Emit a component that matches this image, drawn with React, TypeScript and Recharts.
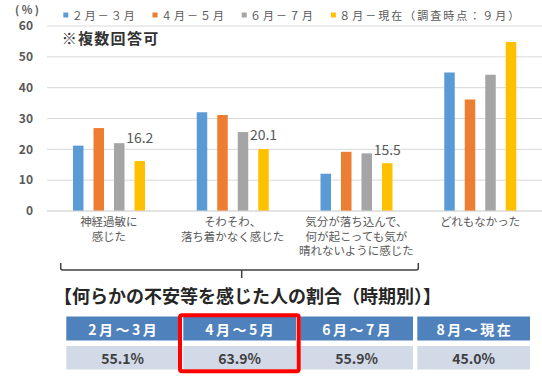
import { BarChart, Bar, XAxis, YAxis, CartesianGrid, LabelList } from 'recharts';

const categories = [
  '神経過敏に\n感じた',
  'そわそわ、\n落ち着かなく感じた',
  '気分が落ち込んで、\n何が起こっても気が\n晴れないように感じた',
  'どれもなかった',
];
const febMar = [21.2, 32.0, 12.1, 44.9];
const aprMay = [26.9, 31.1, 19.2, 36.2];
const junJul = [22.0, 25.6, 18.7, 44.2];
const augNow = [16.2, 20.1, 15.5, 54.8];
const yTicks = [0, 10, 20, 30, 40, 50, 60];
const seriesNames = ['２月－３月', '４月－５月', '６月－７月', '８月－現在（調査時点：９月）'];
const labelled = [true, true, true, false];

const tableHeads = ['2月～3月', '4月～5月', '6月～7月', '8月～現在'];
const tableValues = ['55.1%', '63.9%', '55.9%', '45.0%'];

const KEYS = ['febMar', 'aprMay', 'junJul', 'augNow'];
const COLORS = ['#5B9BD5', '#ED7D31', '#A5A5A5', '#FFC000'];
const FONT = "'Noto Sans CJK JP', 'Noto Sans', sans-serif";

const data = categories.map((name, i) => ({
  name,
  febMar: febMar[i],
  aprMay: aprMay[i],
  junJul: junJul[i],
  augNow: augNow[i],
}));

// how far each value label sits above its bar
const labelLift = [24, 15, 14];

function PeakLabel(props: any) {
  const { x, y, width, value, index } = props;
  if (!labelled[index]) return null;
  return (
    <text
      x={x + width / 2}
      y={y - labelLift[index]}
      textAnchor="middle"
      dominantBaseline="central"
      fontSize={14}
      fill="#595959"
    >
      {Number(value).toFixed(1)}
    </text>
  );
}

function CategoryTick({ x, y, payload }: any) {
  const lines = String(payload.value).split('\n');
  return (
    <text x={x} y={y} textAnchor="middle" fill="#595959" fontSize={11.5}>
      {lines.map((l, i) => (
        <tspan key={i} x={x} dy={i === 0 ? 7 : 14.6}>
          {l}
        </tspan>
      ))}
    </text>
  );
}

function Overlay() {
  const colX = (i: number) => 66.3 + i * 117;
  return (
    <svg
      width={542}
      height={379}
      style={{ position: 'absolute', left: 0, top: 0, pointerEvents: 'none', fontFamily: FONT }}
    >
      <text x={15} y={8.5} dominantBaseline="central" fontSize={11} fontWeight="bold" fill="#595959" style={{ letterSpacing: 2.5 }}>
        (%)
      </text>
      {seriesNames.map((s, i) => {
        const x0 = 63.3 + i * 89.2;
        return (
          <g key={s}>
            <rect x={x0} y={12.5} width={5} height={5} fill={COLORS[i]} />
            <text x={x0 + 8.4} y={15} dominantBaseline="central" fontSize={11} fill="#595959" style={{ letterSpacing: 2 }}>
              {s}
            </text>
          </g>
        );
      })}
      <text x={61.7} y={37.7} dominantBaseline="central" fontSize={15} fontWeight="bold" fill="#333" style={{ letterSpacing: 1.3 }}>
        ※複数回答可
      </text>

      <path
        d="M60.7,263 V268 Q60.7,270 62.7,270 H416.3 Q418.3,270 418.3,268 V263 M241.7,270 V278"
        fill="none"
        stroke="#404040"
        strokeWidth={1.5}
      />

      <text x={54} y={295} dominantBaseline="central" fontSize={18} fontWeight="bold" fill="#262626">
        【何らかの不安等を感じた人の割合（時期別）】
      </text>

      {tableHeads.map((h, i) => (
        <g key={h}>
          <rect x={colX(i)} y={316.5} width={112.7} height={24} fill="#4F81BD" />
          <text x={colX(i) + 56.3 + 1.2} y={328.5} textAnchor="middle" dominantBaseline="central" fontSize={14} fontWeight="bold" fill="#fff" style={{ letterSpacing: 2.5 }}>
            {h}
          </text>
          <rect x={colX(i)} y={346} width={112.7} height={23.5} fill="#D2D9E7" />
          <text x={colX(i) + 56.3} y={357.8} textAnchor="middle" dominantBaseline="central" fontSize={14} fontWeight="bold" fill="#404040">
            {tableValues[i]}
          </text>
        </g>
      ))}
      <rect x={180} y={315.3} width={118.7} height={56} rx={2} fill="none" stroke="#FF0000" strokeWidth={4} />
    </svg>
  );
}

export default function App() {
  return (
    <div style={{ position: 'absolute', left: 0, top: 0, width: 542, height: 379, background: '#fff', fontFamily: FONT }}>
      <BarChart
        width={542}
        height={379}
        data={data}
        margin={{ top: 26, right: 0, bottom: 108, left: 0 }}
        barSize={10.5}
        barGap={10}
      >
        <CartesianGrid vertical={false} stroke="#D9D9D9" />
        <XAxis
          dataKey="name"
          height={60}
          interval={0}
          axisLine={{ stroke: '#D9D9D9' }}
          tickLine={false}
          tick={<CategoryTick />}
        />
        <YAxis
          width={47}
          domain={[0, 60]}
          ticks={yTicks}
          axisLine={false}
          tickLine={false}
          tickMargin={8}
          tick={{ fontSize: 12, fontWeight: 'bold', fill: '#595959' }}
        />
        {KEYS.map((k, i) => (
          <Bar key={k} dataKey={k} fill={COLORS[i]} isAnimationActive={false}>
            {k === 'augNow' && <LabelList dataKey={k} content={<PeakLabel />} />}
          </Bar>
        ))}
      </BarChart>
      <Overlay />
    </div>
  );
}
